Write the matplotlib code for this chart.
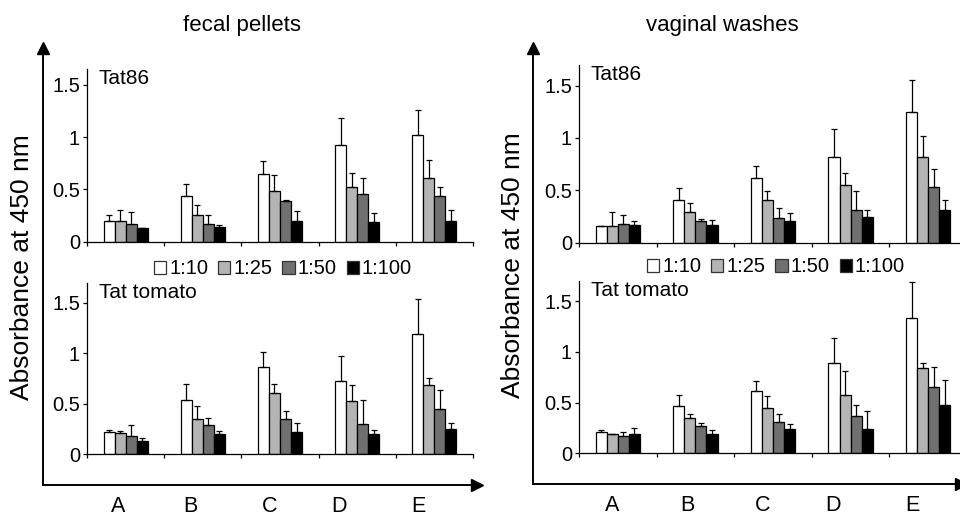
import matplotlib
matplotlib.use("Agg")
import matplotlib.pyplot as plt
from matplotlib.patches import Patch
import numpy as np

plt.rcParams['font.family'] = ['Liberation Sans', 'DejaVu Sans']

categories = ["A", "B", "C", "D", "E"]
dilutions = ["1:10", "1:25", "1:50", "1:100"]
bar_colors = ["#ffffff", "#b4b4b4", "#707070", "#000000"]

# fecal pellets, Tat86 : means and upper error (top of error bar)
fecal_tat86 = [[0.20, 0.44, 0.65, 0.93, 1.02],
               [0.20, 0.26, 0.49, 0.52, 0.61],
               [0.17, 0.17, 0.39, 0.46, 0.44],
               [0.13, 0.14, 0.20, 0.19, 0.20]]
fecal_tat86_top = [[0.26, 0.55, 0.77, 1.18, 1.26],
                   [0.30, 0.35, 0.64, 0.66, 0.78],
                   [0.28, 0.26, 0.40, 0.61, 0.52],
                   [0.13, 0.16, 0.29, 0.27, 0.30]]
# fecal pellets, Tat tomato
fecal_tomato = [[0.22, 0.54, 0.86, 0.72, 1.19],
                [0.21, 0.35, 0.60, 0.53, 0.68],
                [0.18, 0.29, 0.35, 0.30, 0.45],
                [0.13, 0.20, 0.22, 0.20, 0.25]]
fecal_tomato_top = [[0.24, 0.69, 1.01, 0.97, 1.54],
                    [0.23, 0.48, 0.69, 0.68, 0.75],
                    [0.29, 0.36, 0.43, 0.54, 0.63],
                    [0.16, 0.23, 0.31, 0.24, 0.31]]
# vaginal washes, Tat86
vag_tat86 = [[0.16, 0.41, 0.62, 0.82, 1.25],
             [0.16, 0.29, 0.41, 0.55, 0.82],
             [0.18, 0.21, 0.24, 0.31, 0.53],
             [0.17, 0.17, 0.21, 0.25, 0.31]]
vag_tat86_top = [[0.16, 0.52, 0.73, 1.09, 1.55],
                 [0.29, 0.38, 0.49, 0.67, 1.02],
                 [0.26, 0.23, 0.33, 0.49, 0.70],
                 [0.21, 0.22, 0.28, 0.31, 0.41]]
# vaginal washes, Tat tomato
vag_tomato = [[0.21, 0.47, 0.61, 0.89, 1.33],
              [0.19, 0.35, 0.45, 0.57, 0.84],
              [0.17, 0.27, 0.31, 0.37, 0.65],
              [0.19, 0.19, 0.24, 0.24, 0.48]]
vag_tomato_top = [[0.23, 0.57, 0.71, 1.14, 1.69],
                  [0.19, 0.39, 0.56, 0.81, 0.89],
                  [0.21, 0.30, 0.39, 0.48, 0.85],
                  [0.25, 0.23, 0.29, 0.42, 0.72]]

W, H = 960, 517
fig = plt.figure(figsize=(W / 100, H / 100), dpi=100)


def px_axes(x0, x1, y_top, y_bot):
    return fig.add_axes([x0 / W, 1 - y_bot / H, (x1 - x0) / W, (y_bot - y_top) / H])


def draw_panel(ax, means, tops, label, ytop):
    n = len(categories)
    x = np.arange(n) + 0.5
    bw = 0.143
    for k in range(len(dilutions)):
        m = np.array(means[k])
        t = np.array(tops[k])
        err = np.clip(t - m, 0, None)
        ax.bar(x + (k - 1.5) * bw, m, width=bw, color=bar_colors[k],
               edgecolor="black", linewidth=0.9,
               yerr=[np.zeros(n), err],
               error_kw=dict(ecolor="black", elinewidth=0.9, capsize=2.5, capthick=0.9),
               zorder=2)
    ax.set_xlim(0, n)
    ax.set_ylim(0, ytop)
    ax.set_xticks(np.arange(n + 1))
    ax.set_xticklabels([])
    ax.set_yticks([0, 0.5, 1, 1.5])
    ax.set_yticklabels(["0", "0.5", "1", "1.5"], fontsize=14.5)
    ax.tick_params(axis="y", length=3, width=0.9, pad=2)
    ax.tick_params(axis="x", length=3, width=0.9, direction="out")
    for s in ["top", "right"]:
        ax.spines[s].set_visible(False)
    for s in ["left", "bottom"]:
        ax.spines[s].set_linewidth(0.9)
    ax.patch.set_alpha(0)
    ax.text(0.03, 1.0, label, transform=ax.transAxes, fontsize=15,
            ha="left", va="top")


def outer_axes(x0, x1, y_top, y_bot, label_px):
    ax = px_axes(x0, x1, y_top, y_bot)
    ax.set_xlim(x0, x1)
    ax.set_ylim(0, 1)
    for s in ["top", "right"]:
        ax.spines[s].set_visible(False)
    for s in ["left", "bottom"]:
        ax.spines[s].set_linewidth(1.4)
    ax.set_yticks([])
    ax.set_xticks(label_px)
    ax.set_xticklabels(categories, fontsize=15.5)
    ax.tick_params(axis="x", length=0, pad=8)
    ax.plot([0], [1], marker="^", color="black", markersize=9,
            transform=ax.transAxes, clip_on=False)
    ax.plot([1], [0], marker=">", color="black", markersize=9,
            transform=ax.transAxes, clip_on=False)
    ax.patch.set_alpha(0)
    return ax


# outer frames with arrows
ax_o1 = outer_axes(43, 477, 48, 485, [118, 190, 270, 339, 418])
ax_o2 = outer_axes(533, 961, 48, 484, [612, 687, 763, 833, 912])
ax_o1.set_zorder(0)
ax_o2.set_zorder(0)

ax_tl = px_axes(87, 473, 69.3, 241.7)
ax_bl = px_axes(87, 473, 282.5, 454)
ax_tr = px_axes(579, 967, 64.7, 242.7)
ax_br = px_axes(579, 967, 280.7, 453.3)

draw_panel(ax_tl, fecal_tat86, fecal_tat86_top, "Tat86", 1.65)
draw_panel(ax_bl, fecal_tomato, fecal_tomato_top, "Tat tomato", 1.7)
draw_panel(ax_tr, vag_tat86, vag_tat86_top, "Tat86", 1.7)
draw_panel(ax_br, vag_tomato, vag_tomato_top, "Tat tomato", 1.7)

# titles and y labels
fig.text(242 / W, 1 - 25 / H, "fecal pellets", fontsize=16, ha="center", va="center")
fig.text(722 / W, 1 - 25 / H, "vaginal washes", fontsize=16, ha="center", va="center")
fig.text(22 / W, 1 - 267 / H, "Absorbance at 450 nm", fontsize=19, rotation=90,
         ha="center", va="center")
fig.text(513 / W, 1 - 265 / H, "Absorbance at 450 nm", fontsize=19, rotation=90,
         ha="center", va="center")

# legends
handles = [Patch(facecolor=c, edgecolor="#333333", linewidth=0.9) for c in bar_colors]
for cx, cy in [(283, 269), (776, 267)]:
    fig.legend(handles, dilutions, loc="center", bbox_to_anchor=(cx / W, 1 - cy / H),
               ncol=4, frameon=False, fontsize=14.5, handlelength=0.6, handleheight=0.6,
               handletextpad=0.15, columnspacing=0.5, borderpad=0, borderaxespad=0)

fig.savefig("out.png", dpi=100)
